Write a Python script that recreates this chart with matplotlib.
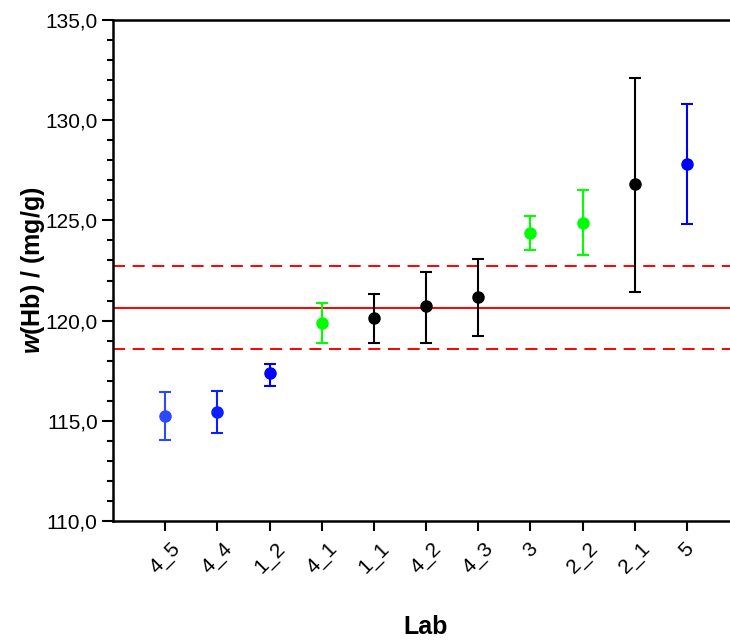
import matplotlib.pyplot as plt
from matplotlib.ticker import MultipleLocator, FuncFormatter

plt.rcParams['font.family'] = ['Liberation Sans', 'DejaVu Sans']
plt.rcParams['mathtext.fontset'] = 'custom'
plt.rcParams['mathtext.it'] = 'Liberation Sans:italic:bold'
plt.rcParams['mathtext.rm'] = 'Liberation Sans:bold'

# lab results, ordered as on the chart
labs = ["4_5", "4_4", "1_2", "4_1", "1_1", "4_2", "4_3", "3", "2_2", "2_1", "5"]
values = [115.25, 115.45, 117.38, 119.88, 120.12, 120.72, 121.18, 124.35, 124.88, 126.8, 127.8]
err_low = [114.05, 114.4, 116.75, 118.88, 118.87, 118.9, 119.25, 123.5, 123.28, 121.45, 124.8]
err_high = [116.45, 116.5, 117.85, 120.9, 121.35, 122.45, 123.05, 125.2, 126.5, 132.1, 130.8]
colors = ["#2a48ff", "#0a1eff", "#0000ff", "#00ff00", "#000000", "#000000",
          "#000000", "#00ff00", "#00ff00", "#000000", "#0000ff"]

ref_mean = 120.65
ref_band = 2.05

fig = plt.figure(figsize=(7.30, 6.44), dpi=100)
# axes run past the right edge, as in the cropped original
ax = fig.add_axes([113 / 730, 1 - 521 / 644, 626 / 730, 501 / 644])

for i, (lab, v, lo, hi, c) in enumerate(zip(labs, values, err_low, err_high, colors)):
    ax.errorbar(i + 1, v, yerr=[[v - lo], [hi - v]], fmt='o', color=c,
                markersize=8, elinewidth=1.5, capsize=4, capthick=1.5, zorder=3)

ax.axhline(ref_mean, color='red', lw=1.4, zorder=2)
ax.axhline(ref_mean + ref_band, color='red', lw=1.4, ls=(0, (6.2, 3.9)), zorder=2)
ax.axhline(ref_mean - ref_band, color='red', lw=1.4, ls=(0, (6.2, 3.9)), zorder=2)

ax.set_xlim(0, 12)
ax.set_ylim(110, 135)
ax.set_xticks(range(1, len(labs) + 1))
ax.set_xticklabels(labs, rotation=45, ha='center', fontsize=15)
ax.yaxis.set_major_locator(MultipleLocator(5))
ax.yaxis.set_minor_locator(MultipleLocator(1))
ax.yaxis.set_major_formatter(FuncFormatter(lambda y, p: f"{y:.1f}".replace('.', ',')))
ax.tick_params(axis='y', which='major', direction='out', length=8, width=1.5, labelsize=15, pad=3)
ax.tick_params(axis='y', which='minor', direction='out', length=4, width=1.5)
ax.tick_params(axis='x', which='major', direction='out', length=7, width=1.5, pad=6)

for s in ax.spines.values():
    s.set_linewidth(1.8)

ax.set_ylabel(r"$\mathit{w}$(Hb) / (mg/g)", fontsize=18, fontweight='bold')
ax.yaxis.set_label_coords(-0.105, 0.5)
ax.set_xlabel("Lab", fontsize=18, fontweight='bold', va='top')
ax.xaxis.set_label_coords(0.5, -0.188)

fig.savefig("out.png", dpi=100)
